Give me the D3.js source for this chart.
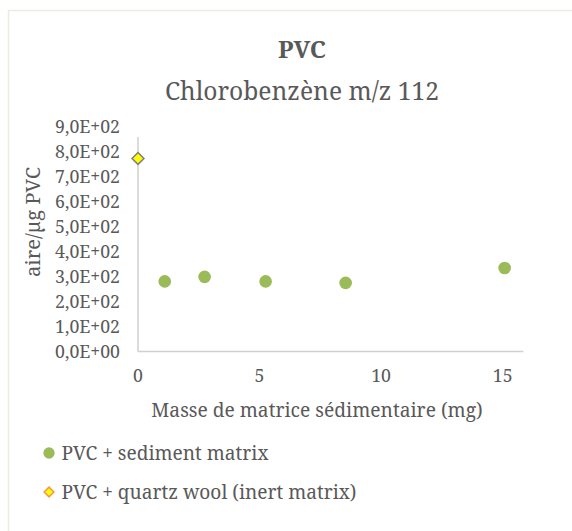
<!DOCTYPE html>
<html>
<head>
<meta charset="utf-8">
<script src="https://cdn.jsdelivr.net/npm/d3@7"></script>
<style>
	html, body { margin: 0; padding: 0; background: #fff; }
</style>
</head>
<body>
<div id="chart"></div>
<script>
// series values
var sedimentMass = [1.1, 2.74, 5.25, 8.54, 15.08];
var sedimentArea = [281, 299, 281, 275, 335];
var quartzMass = [0];
var quartzArea = [774];

var xTicks = [0, 5, 10, 15];
var yTicks = [0, 100, 200, 300, 400, 500, 600, 700, 800, 900];
var legendLabels = ['PVC + sediment matrix', 'PVC + quartz wool (inert matrix)'];

var width = 572, height = 531;
var textColor = '#595959';
var fontFamily = "'Noto Serif', 'Liberation Serif', serif";

var svg = d3.select('#chart')
	.append('svg')
	.attr('width', width)
	.attr('height', height)
	.style('font-family', fontFamily);

// chart frame (runs past the picture on the right and bottom)
svg.append('rect')
	.attr('x', 8.5).attr('y', 10.5)
	.attr('width', 700).attr('height', 700)
	.attr('fill', '#fff')
	.attr('stroke', '#eeece1')
	.attr('stroke-width', 1.5);

var x = d3.scaleLinear().domain([0, 16]).range([138, 527]);
var y = d3.scaleLinear().domain([0, 900]).range([351.5, 127]);

// axis lines
svg.append('line')
	.attr('x1', x(0)).attr('x2', x(0))
	.attr('y1', y(0)).attr('y2', y(860))
	.attr('stroke', '#d0d0d0').attr('stroke-width', 1.5);
svg.append('line')
	.attr('x1', x(0)).attr('x2', x(15.85))
	.attr('y1', y(0)).attr('y2', y(0))
	.attr('stroke', '#d0d0d0').attr('stroke-width', 1.5);

function addText(sel) {
	return sel.append('text')
		.attr('fill', textColor)
		.style('font-family', fontFamily);
}

// the reference uses Cambria, so shrink or grow the font to hit the measured width
function fitWidth(node, size, target) {
	var len = node.getComputedTextLength();
	return Math.round(size * target / len * 10) / 10;
}

// y tick labels
var ytick = addText(svg.selectAll('.ytick').data(yTicks).enter())
	.attr('class', 'ytick')
	.attr('x', 120)
	.attr('y', function(d) { return y(d); })
	.attr('dy', '0.35em')
	.attr('text-anchor', 'end')
	.style('font-size', '16px')
	.text(function(d) {
		var e = d3.format('.1e')(d).replace('.', ',');
		return e.replace(/e\+(\d)$/, 'E+0$1').replace(/e\+(\d\d)$/, 'E+$1');
	});
var tickSize = fitWidth(ytick.filter(function(d) { return d === 900; }).node(), 16, 65);
ytick.style('font-size', tickSize + 'px');

// x tick labels
addText(svg.selectAll('.xtick').data(xTicks).enter())
	.attr('class', 'xtick')
	.attr('x', function(d) { return x(d); })
	.attr('y', 382)
	.attr('text-anchor', 'middle')
	.style('font-size', tickSize + 'px')
	.text(function(d) { return d; });

// titles
var t1 = addText(svg)
	.attr('x', 302).attr('y', 58)
	.attr('text-anchor', 'middle')
	.style('font-size', '26px')
	.style('font-weight', 'bold')
	.text('PVC');
t1.style('font-size', fitWidth(t1.node(), 26, 48) + 'px');

var t2 = addText(svg)
	.attr('x', 302).attr('y', 100)
	.attr('text-anchor', 'middle')
	.style('font-size', '26px')
	.text('Chlorobenzène m/z 112');
t2.style('font-size', fitWidth(t2.node(), 26, 274) + 'px');

var xt = addText(svg)
	.attr('x', 317).attr('y', 417)
	.attr('text-anchor', 'middle')
	.style('font-size', '18px')
	.text('Masse de matrice sédimentaire (mg)');
var labelSize = fitWidth(xt.node(), 18, 332);
xt.style('font-size', labelSize + 'px');

addText(svg)
	.attr('transform', 'translate(40,222) rotate(-90)')
	.attr('text-anchor', 'middle')
	.style('font-size', (labelSize * 1.05) + 'px')
	.text('aire/µg PVC');

// sediment matrix points
var pts = sedimentMass.map(function(m, i) { return { x: m, y: sedimentArea[i] }; });
svg.selectAll('.sed')
	.data(pts)
	.enter()
	.append('circle')
	.attr('class', 'sed')
	.attr('cx', function(d) { return x(d.x); })
	.attr('cy', function(d) { return y(d.y); })
	.attr('r', 6.3)
	.attr('fill', '#9bbb59');

// quartz wool point
var diamond = d3.symbol().type(d3.symbolDiamond2).size(90);
var qpts = quartzMass.map(function(m, i) { return { x: m, y: quartzArea[i] }; });
svg.selectAll('.qtz')
	.data(qpts)
	.enter()
	.append('path')
	.attr('class', 'qtz')
	.attr('d', diamond)
	.attr('transform', function(d) { return 'translate(' + x(d.x) + ',' + y(d.y) + ')'; })
	.attr('fill', '#ffff00')
	.attr('stroke', '#7f7f7f')
	.attr('stroke-width', 1.5);

// legend
var legend = svg.selectAll('.legend')
	.data(legendLabels)
	.enter()
	.append('g')
	.attr('class', 'legend')
	.attr('transform', function(d, i) { return 'translate(49,' + (453 + i * 39) + ')'; });

legend.append('path')
	.attr('d', function(d, i) {
		return i === 0 ? d3.symbol().type(d3.symbolCircle).size(100)() : d3.symbol().type(d3.symbolDiamond2).size(60)();
	})
	.attr('fill', function(d, i) { return i === 0 ? '#9bbb59' : '#ffff00'; })
	.attr('stroke', function(d, i) { return i === 0 ? 'none' : '#f79646'; })
	.attr('stroke-width', 1.5);

var lt = addText(legend)
	.attr('x', 12.5)
	.attr('y', 6.5)
	.style('font-size', '18px')
	.text(function(d) { return d; });
var legSize = fitWidth(lt.filter(function(d, i) { return i === 1; }).node(), 18, 295);
lt.style('font-size', legSize + 'px');
</script>
</body>
</html>
